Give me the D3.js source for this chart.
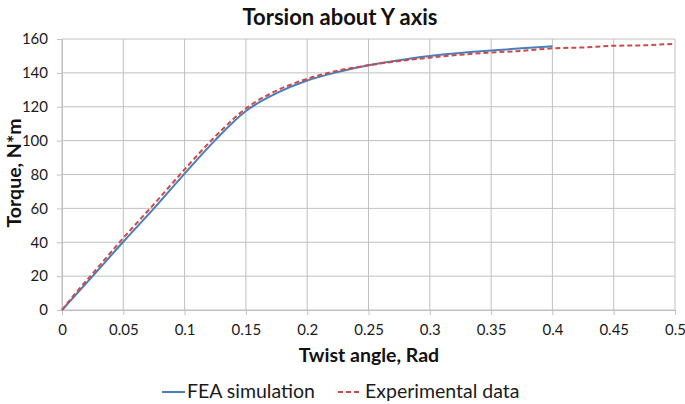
<!DOCTYPE html>
<meta charset="utf-8">
<style>
body { margin: 0; background: #fff; }
svg { font-family: Lato, 'Open Sans', sans-serif; }
</style>
<body>
<script src="https://cdnjs.cloudflare.com/ajax/libs/d3/7.8.5/d3.min.js"></script>
<script>

// twist angle (rad), torque (N*m)
var feaX = [0, 0.025, 0.05, 0.075, 0.1, 0.125, 0.15, 0.175, 0.2, 0.225, 0.25, 0.275, 0.3, 0.325, 0.35, 0.375, 0.4];
var feaY = [0, 20, 40.3, 60, 80.5, 100.3, 117.5, 128, 135.5, 140.5, 144.5, 147.5, 150, 151.8, 153.2, 154.5, 155.7];

var expX = [0, 0.01, 0.025, 0.05, 0.075, 0.1, 0.125, 0.15, 0.175, 0.2, 0.225, 0.25, 0.275, 0.3, 0.325, 0.35, 0.375, 0.4, 0.425, 0.45, 0.475, 0.5];
var expY = [0, 9, 21.5, 42.5, 62.5, 83, 102.5, 119, 129.5, 136.5, 141.3, 144.5, 147, 149, 150.7, 152, 153, 154.5, 155, 156, 156.3, 157.2];

var xTicks = [0, 0.05, 0.1, 0.15, 0.2, 0.25, 0.3, 0.35, 0.4, 0.45, 0.5];
var yTicks = [0, 20, 40, 60, 80, 100, 120, 140, 160];

var W = 685, H = 404;
var margin = {top: 39, left: 62};

var svg = d3.select("body").append("svg")
    .attr("width", W)
    .attr("height", H);

var x = d3.scaleLinear().domain([0, 0.5]).range([0, 613]);
var y = d3.scaleLinear().domain([0, 160]).range([271, 0]);

var g = svg.append("g")
    .attr("transform", "translate(" + margin.left + "," + margin.top + ")");

// grid
g.append("g").selectAll("line")
    .data(yTicks).enter().append("line")
    .attr("x1", 0).attr("x2", x(0.5))
    .attr("y1", d => y(d)).attr("y2", d => y(d))
    .style("stroke", "#c0c0c0");

g.append("g").selectAll("line")
    .data(xTicks).enter().append("line")
    .attr("x1", d => x(d)).attr("x2", d => x(d))
    .attr("y1", 0).attr("y2", y(0))
    .style("stroke", "#c0c0c0");

var xAxis = d3.axisBottom(x).tickValues(xTicks).tickSize(5).tickPadding(9)
    .tickFormat(d => d3.format("")(d));
var yAxis = d3.axisLeft(y).tickValues(yTicks).tickSize(5).tickPadding(9);

var gx = g.append("g")
    .attr("transform", "translate(0," + y(0) + ")")
    .call(xAxis);
var gy = g.append("g").call(yAxis);

[gx, gy].forEach(function(a){
  a.select(".domain").style("stroke", "#c0c0c0");
  a.selectAll(".tick line").style("stroke", "#c0c0c0");
  a.selectAll(".tick text")
    .style("font-size", "15px")
    .style("fill", "#1a1a1a")
    .style("font-family", "Lato, sans-serif");
});

var line = d3.line()
    .curve(d3.curveMonotoneX)
    .x(d => x(d[0]))
    .y(d => y(d[1]));

g.append("path")
    .datum(feaX.map((v, i) => [v, feaY[i]]))
    .attr("d", line)
    .style("fill", "none")
    .style("stroke", "#4a7ebb")
    .style("stroke-width", 2);

g.append("path")
    .datum(expX.map((v, i) => [v, expY[i]]))
    .attr("d", line)
    .style("fill", "none")
    .style("stroke", "#cc4a4a")
    .style("stroke-width", 2)
    .style("stroke-dasharray", "5,3");

// titles
svg.append("text")
    .attr("x", 340).attr("y", 25)
    .style("text-anchor", "middle")
    .style("font-weight", "bold")
    .style("font-size", "22px")
    .style("fill", "#111")
    .text("Torsion about Y axis");

svg.append("text")
    .attr("x", 369).attr("y", 362)
    .style("text-anchor", "middle")
    .style("font-weight", "bold")
    .style("font-size", "19.5px")
    .style("fill", "#111")
    .text("Twist angle, Rad");

svg.append("text")
    .attr("transform", "translate(21,173) rotate(-90)")
    .style("text-anchor", "middle")
    .style("font-weight", "bold")
    .style("font-size", "19.5px")
    .style("fill", "#111")
    .text("Torque, N*m");

// legend
var leg = svg.append("g").attr("transform", "translate(0,398)");
leg.append("line").attr("x1", 162).attr("x2", 185).attr("y1", -6).attr("y2", -6)
    .style("stroke", "#4a7ebb").style("stroke-width", 2);
leg.append("text").attr("x", 187).attr("y", 0)
    .style("font-size", "19.5px").style("fill", "#1a1a1a").text("FEA simulation");
leg.append("line").attr("x1", 338).attr("x2", 361).attr("y1", -6).attr("y2", -6)
    .style("stroke", "#cc4a4a").style("stroke-width", 2)
    .style("stroke-dasharray", "5,3");
leg.append("text").attr("x", 365).attr("y", 0)
    .style("font-size", "19.5px").style("fill", "#1a1a1a").text("Experimental data");

</script>
</body>
